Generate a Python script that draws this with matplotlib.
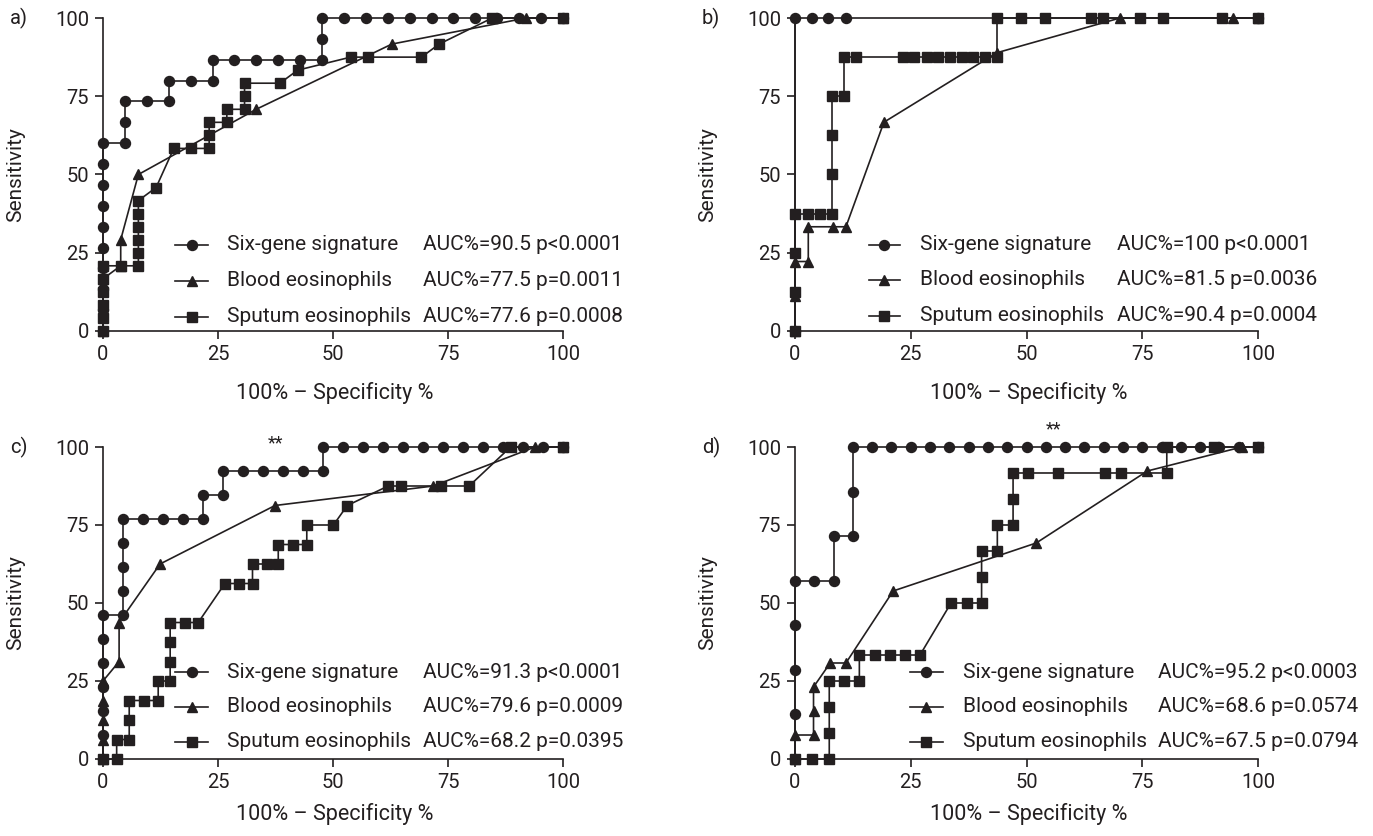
import matplotlib
matplotlib.use("Agg")
import matplotlib.pyplot as plt

INK = "#231f20"
plt.rcParams["font.family"] = ["Roboto", "DejaVu Sans"]

# ---- panel a ----
a_six_x = [0, 0, 0, 0, 0, 0, 0, 0, 0, 0, 4.76, 4.76, 4.76, 9.52, 14.29, 14.29, 19.05, 23.81, 23.81,
           28.57, 33.33, 38.10, 42.86, 47.62, 47.62, 47.62, 52.38, 57.14, 61.90, 66.67, 71.43,
           76.19, 80.95, 85.71, 90.48, 95.24, 100]
a_six_y = [0, 6.67, 13.33, 20, 26.67, 33.33, 40, 46.67, 53.33, 60, 60, 66.67, 73.33, 73.33, 73.33,
           80, 80, 80, 86.67, 86.67, 86.67, 86.67, 86.67, 86.67, 93.33, 100, 100, 100, 100, 100,
           100, 100, 100, 100, 100, 100, 100]
a_blood_x = [0, 0, 0, 3.85, 3.85, 7.69, 33.3, 62.8, 92.0, 100]
a_blood_y = [0, 8.33, 16.67, 20.83, 29.17, 50.0, 70.83, 91.67, 100, 100]
a_sput_x = [0, 0, 0, 0, 0, 0, 3.85, 7.69, 7.69, 7.69, 7.69, 7.69, 7.69, 11.54, 15.38, 19.23,
            23.08, 23.08, 23.08, 26.92, 26.92, 30.77, 30.77, 30.77, 38.46, 42.31, 53.85, 57.69,
            69.23, 73.08, 84.62, 100]
a_sput_y = [0, 4.17, 8.33, 12.5, 16.67, 20.83, 20.83, 20.83, 25.0, 29.17, 33.33, 37.5, 41.67,
            45.83, 58.33, 58.33, 58.33, 62.5, 66.67, 66.67, 70.83, 70.83, 75.0, 79.17, 79.17,
            83.33, 87.5, 87.5, 87.5, 91.67, 100, 100]
a_auc = ["AUC%=90.5 p<0.0001", "AUC%=77.5 p=0.0011", "AUC%=77.6 p=0.0008"]

# ---- panel b ----
b_six_x = [0, 0, 3.74, 7.19, 10.95, 100]
b_six_y = [0, 100, 100, 100, 100, 100]
b_blood_x = [0, 0, 0, 2.87, 2.87, 8.1, 11.0, 19.2, 43.6, 70.2, 94.7, 100]
b_blood_y = [0, 11.1, 22.2, 22.2, 33.3, 33.3, 33.3, 66.7, 88.9, 100, 100, 100]
b_sput_x = [0, 0, 0, 0, 2.74, 5.40, 7.93, 7.93, 7.93, 7.93, 10.65, 10.65, 13.17, 23.26, 25.77,
            28.44, 30.95, 33.48, 36.13, 38.51, 41.04, 43.56, 43.56, 48.81, 54.0, 63.9, 66.6,
            74.5, 79.5, 92.2, 100]
b_sput_y = [0, 12.5, 25, 37.5, 37.5, 37.5, 37.5, 50, 62.5, 75, 75, 87.5, 87.5, 87.5, 87.5,
            87.5, 87.5, 87.5, 87.5, 87.5, 87.5, 87.5, 100, 100, 100, 100, 100, 100, 100, 100, 100]
b_auc = ["AUC%=100 p<0.0001", "AUC%=81.5 p=0.0036", "AUC%=90.4 p=0.0004"]

# ---- panel c ----
c_six_x = [0, 0, 0, 0, 0, 0, 0, 4.35, 4.35, 4.35, 4.35, 4.35, 8.70, 13.04, 17.39, 21.74, 21.74,
           26.09, 26.09, 30.43, 34.78, 39.13, 43.48, 47.83, 47.83, 52.17, 56.52, 60.87, 65.22,
           69.57, 73.91, 78.26, 82.61, 86.96, 91.30, 95.65, 100]
c_six_y = [0, 7.69, 15.38, 23.08, 30.77, 38.46, 46.15, 46.15, 53.85, 61.54, 69.23, 76.92, 76.92,
           76.92, 76.92, 76.92, 84.62, 84.62, 92.31, 92.31, 92.31, 92.31, 92.31, 92.31, 100, 100,
           100, 100, 100, 100, 100, 100, 100, 100, 100, 100, 100]
c_blood_x = [0, 0, 0, 0, 0, 3.5, 3.5, 12.4, 37.4, 71.8, 93.9, 100]
c_blood_y = [0, 6.25, 12.5, 18.75, 25.0, 31.25, 43.75, 62.5, 81.25, 87.5, 100, 100]
c_sput_x = [0, 2.97, 2.97, 5.7, 5.7, 5.7, 8.9, 12.0, 12.0, 14.6, 14.6, 14.6, 14.6, 17.8, 20.7,
            26.5, 29.6, 32.5, 32.5, 35.6, 38.1, 38.1, 41.4, 44.3, 44.3, 50.1, 53.1, 62.0, 64.8,
            73.5, 79.6, 88.6, 100]
c_sput_y = [0, 0, 6.25, 6.25, 12.5, 18.75, 18.75, 18.75, 25.0, 25.0, 31.25, 37.5, 43.75, 43.75,
            43.75, 56.25, 56.25, 56.25, 62.5, 62.5, 62.5, 68.75, 68.75, 68.75, 75.0, 75.0, 81.25,
            87.5, 87.5, 87.5, 87.5, 100, 100]
c_auc = ["AUC%=91.3 p<0.0001", "AUC%=79.6 p=0.0009", "AUC%=68.2 p=0.0395"]

# ---- panel d ----
d_six_x = [0, 0, 0, 0, 0, 4.17, 8.33, 8.33, 12.5, 12.5, 12.5, 16.67, 20.83, 25.0, 29.17, 33.33,
           37.5, 41.67, 45.83, 50.0, 54.17, 58.33, 62.5, 66.67, 70.83, 75.0, 79.17, 83.33, 87.5,
           91.67, 95.83, 100]
d_six_y = [0, 14.29, 28.57, 42.86, 57.14, 57.14, 57.14, 71.43, 71.43, 85.71, 100, 100, 100, 100,
           100, 100, 100, 100, 100, 100, 100, 100, 100, 100, 100, 100, 100, 100, 100, 100, 100, 100]
d_blood_x = [0, 0, 4.0, 4.0, 4.0, 7.6, 11.0, 21.2, 52.1, 76.1, 96.5, 100]
d_blood_y = [0, 7.69, 7.69, 15.38, 23.08, 30.77, 30.77, 53.85, 69.23, 92.31, 100, 100]
d_sput_x = [0, 3.7, 7.4, 7.4, 7.4, 7.4, 10.6, 13.9, 13.9, 17.3, 20.5, 23.8, 27.0, 33.7, 37.2,
            40.3, 40.3, 40.3, 43.7, 43.7, 47.1, 47.1, 47.1, 50.4, 56.9, 67.0, 70.4, 80.3, 80.3,
            90.5, 100]
d_sput_y = [0, 0, 0, 8.33, 16.67, 25.0, 25.0, 25.0, 33.33, 33.33, 33.33, 33.33, 33.33, 50.0, 50.0,
            50.0, 58.33, 66.67, 66.67, 75.0, 75.0, 83.33, 91.67, 91.67, 91.67, 91.67, 91.67, 91.67,
            100, 100, 100]
d_auc = ["AUC%=95.2 p<0.0003", "AUC%=68.6 p=0.0574", "AUC%=67.5 p=0.0794"]

series_names = ["Six-gene signature", "Blood eosinophils", "Sputum eosinophils"]
markers = ["o", "^", "s"]
msizes = [7.2, 7.6, 6.8]
ticks = [0, 25, 50, 75, 100]

fig = plt.figure(figsize=(13.73, 8.36), dpi=100)
W, H = 1373, 836


def panel(rect, letter, xs, ys, auc, leg, stars=None, xlab_gap=62):
    ax = fig.add_axes(rect)
    for x, y, m, ms in zip(xs, ys, markers, msizes):
        ax.plot(x, y, color=INK, lw=1.2, marker=m, ms=ms, clip_on=False, zorder=3)
    ax.set_xlim(0, 100)
    ax.set_ylim(0, 100)
    ax.set_xticks(ticks)
    ax.set_yticks(ticks)
    for s in ["top", "right"]:
        ax.spines[s].set_visible(False)
    for s in ["left", "bottom"]:
        ax.spines[s].set_color(INK)
        ax.spines[s].set_linewidth(1.2)
    ax.tick_params(direction="out", length=6, width=1.2, colors=INK, labelsize=14.5, pad=4)

    hx0, hx1, lx, ax_auc, rows = leg
    for i in range(3):
        ax.plot([hx0, hx1], [rows[i], rows[i]], color=INK, lw=1.2, transform=ax.transAxes,
                clip_on=False)
        ax.plot([(hx0 + hx1) / 2], [rows[i]], color=INK, marker=markers[i], ms=msizes[i],
                transform=ax.transAxes, clip_on=False)
        ax.text(lx, rows[i], series_names[i], transform=ax.transAxes, fontsize=15,
                color=INK, va="center", ha="left")
        ax.text(ax_auc, rows[i], auc[i], transform=ax.transAxes, fontsize=15,
                color=INK, va="center", ha="left")
    if stars:
        ax.text(stars[0], stars[1], "**", transform=ax.transAxes, fontsize=13,
                color=INK, ha="center", va="center")

    left, bottom, w, h = rect
    fig.text(left - 93 / W, bottom + h, letter, fontsize=14.5, color=INK, va="center")
    fig.text(left - 87 / W, bottom + h / 2, "Sensitivity", rotation=90, fontsize=15,
             color=INK, va="center", ha="center")
    fig.text(left + w / 2 + 2 / W, bottom - xlab_gap / H, "100% \u2013 Specificity %",
             fontsize=15.5, color=INK, va="center", ha="center")
    return ax


panel([103 / W, 1 - 331 / H, 460 / W, 313 / H], "a)",
      [a_six_x, a_blood_x, a_sput_x], [a_six_y, a_blood_y, a_sput_y], a_auc,
      (0.157, 0.228, 0.269, 0.696, [0.275, 0.160, 0.045]))
panel([795 / W, 1 - 331 / H, 463 / W, 313 / H], "b)",
      [b_six_x, b_blood_x, b_sput_x], [b_six_y, b_blood_y, b_sput_y], b_auc,
      (0.159, 0.227, 0.270, 0.695, [0.275, 0.163, 0.048]))
panel([103 / W, 1 - 759 / H, 460 / W, 312 / H], "c)",
      [c_six_x, c_blood_x, c_sput_x], [c_six_y, c_blood_y, c_sput_y], c_auc,
      (0.157, 0.228, 0.269, 0.696, [0.278, 0.168, 0.055]), stars=(0.374, 1.012), xlab_gap=55)
panel([795 / W, 1 - 759 / H, 463 / W, 312 / H], "d)",
      [d_six_x, d_blood_x, d_sput_x], [d_six_y, d_blood_y, d_sput_y], d_auc,
      (0.249, 0.319, 0.362, 0.785, [0.278, 0.168, 0.055]), stars=(0.558, 1.057), xlab_gap=55)

fig.savefig("out.png", dpi=100, facecolor="white")
